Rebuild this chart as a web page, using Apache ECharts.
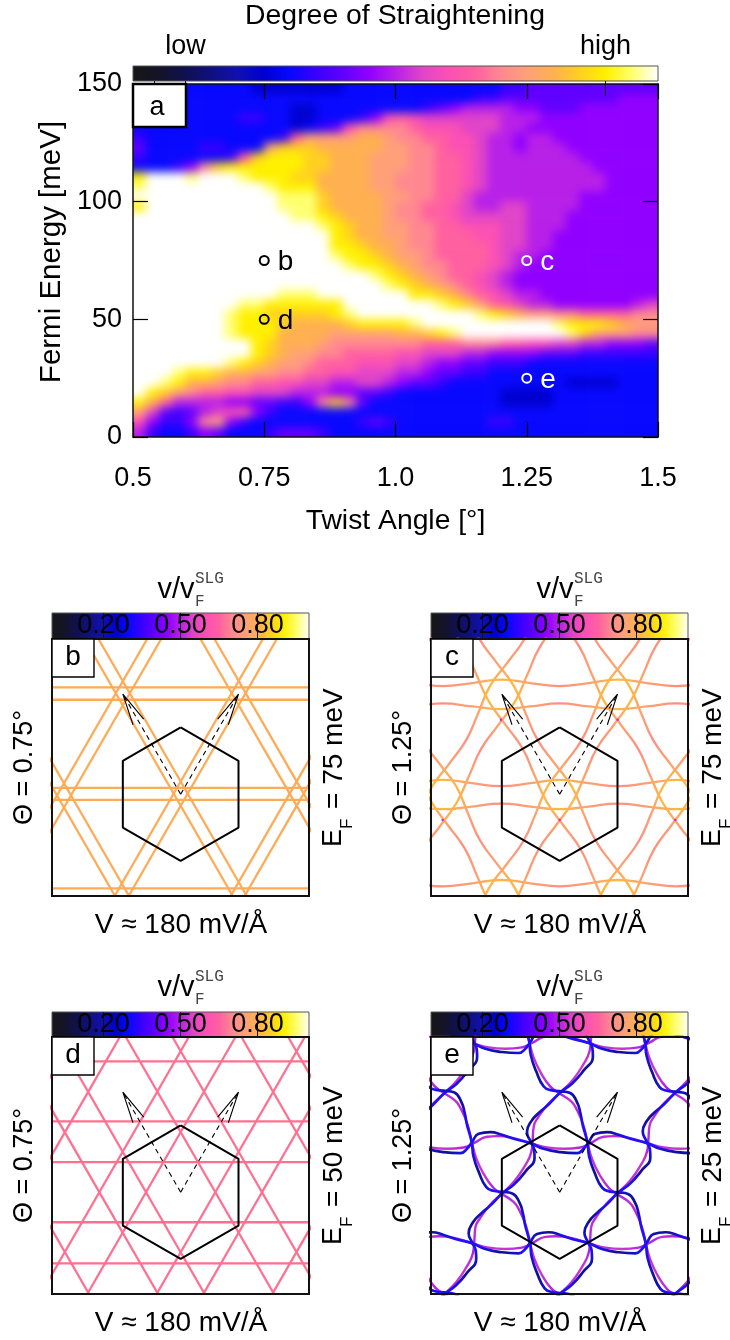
<!DOCTYPE html>
<html><head><meta charset="utf-8">
<style>html,body{margin:0;padding:0;background:#fff}#c{position:relative;isolation:isolate;width:730px;height:1340px;background:#fff}</style>
<script src="https://cdn.jsdelivr.net/npm/echarts@6/dist/echarts.min.js"></script>
</head><body><div id="c"></div><script>
// Colour scale: low → high, evenly spaced
const palette=['#161616','#141428','#101050','#101080','#1010b0','#0000d0','#0808ff','#3a00ff','#6000ff','#9000ff','#b820e8','#e044c8','#fb50b4','#ff60a0','#ff8890','#ffa078','#ffb050','#ffd020','#fff000','#ffff70','#ffffff'];
// Degree of straightening (0-20 levels); rows top (150 meV) to bottom (0 meV), columns 0.5° to 1.5°
const levelRows=[
[6,6,6,6,6,6,6,6,6,5,5,5,5,5,5,5,6,6,6,6,6,6,6,6,6,6,6,6,7,7,8,8,8,8,8,8,8,8,8,8],
[6,6,6,6,6,6,6,6,6,6,6,6,6,6,6,6,6,6,6,6,6,6,6,6,6,6,7,7,8,8,8,8,8,8,8,8,8,9,9,9],
[6,6,6,6,6,6,6,6,6,6,6,6,5,5,6,6,6,6,6,6,6,6,7,8,9,10,10,10,10,9,9,8,8,8,9,9,9,9,9,9],
[6,6,6,6,6,6,6,6,7,7,6,6,5,5,6,6,6,7,9,12,13,12,11,11,11,11,11,11,10,10,10,9,9,9,9,9,9,9,9,9],
[6,6,6,6,6,6,6,6,6,6,6,6,5,6,7,8,12,14,14,14,14,13,12,12,12,11,11,11,10,10,9,9,9,9,9,9,9,9,9,9],
[7,6,6,6,6,6,6,6,6,6,6,7,13,15,15,15,15,16,16,15,14,14,13,13,12,12,11,10,10,9,10,10,9,9,9,9,9,9,9,9],
[8,6,6,6,6,7,7,6,6,6,15,17,17,17,16,16,16,16,16,15,15,14,14,13,12,12,11,10,10,9,10,10,10,9,9,9,9,9,9,9],
[7,6,6,6,6,6,6,7,12,17,18,18,18,17,17,16,16,16,15,15,15,14,14,13,13,12,11,10,10,10,10,10,10,10,9,9,9,9,9,9],
[6,6,6,7,9,14,17,18,18,18,18,18,18,17,17,16,16,16,15,15,15,14,14,13,13,12,11,10,10,10,10,10,10,10,10,9,9,9,9,9],
[18,20,20,20,19,20,20,20,19,18,18,18,17,17,16,16,16,16,15,15,14,14,14,13,13,12,11,10,10,10,10,10,10,10,10,10,9,9,9,9],
[19,20,20,20,20,20,20,20,20,20,19,18,18,18,16,16,16,16,15,15,14,14,14,13,13,12,11,10,10,10,10,10,10,10,10,10,9,9,9,9],
[20,20,20,20,20,20,20,20,20,20,20,19,19,19,17,16,16,16,16,15,15,14,14,13,13,11,10,10,10,10,10,10,10,10,9,9,9,9,9,9],
[18,20,20,20,20,20,20,20,20,20,20,19,19,19,17,16,16,16,16,15,14,14,13,13,12,11,10,10,11,11,10,10,10,10,9,9,9,9,9,9],
[20,20,20,20,20,20,20,20,20,20,20,20,19,19,18,17,16,16,16,15,14,14,13,13,12,11,11,11,11,11,10,10,10,9,9,9,9,9,9,9],
[20,20,20,20,20,20,20,20,20,20,20,20,20,20,19,18,17,16,16,15,15,14,14,13,13,12,12,12,11,11,10,10,10,9,9,9,9,9,9,9],
[20,20,20,20,20,20,20,20,20,20,20,20,20,20,20,18,17,16,16,15,15,14,14,13,13,13,12,12,11,11,10,10,9,9,9,9,9,9,9,9],
[20,20,20,20,20,20,20,20,20,20,20,20,20,20,20,18,18,17,16,16,15,14,14,13,13,13,13,12,11,11,10,10,9,9,9,9,9,9,9,9],
[20,20,20,20,20,20,20,20,20,20,20,20,20,20,20,19,18,18,17,16,15,15,14,13,13,13,13,12,11,10,10,9,9,9,9,9,9,9,9,9],
[20,20,20,20,20,20,20,20,20,20,20,20,20,20,20,20,19,18,18,17,16,15,14,14,13,13,13,12,11,10,9,9,9,9,9,9,9,9,9,9],
[20,20,20,20,20,20,20,20,20,20,20,20,20,20,20,20,20,20,19,18,17,16,15,14,13,13,12,11,10,9,9,9,9,9,9,9,9,9,9,9],
[20,20,20,20,20,20,20,20,20,20,20,20,20,20,20,20,20,20,20,19,18,17,16,15,14,13,12,11,10,9,9,9,9,9,9,9,9,9,9,9],
[20,20,20,20,20,20,20,20,20,20,20,19,19,19,20,20,20,20,20,20,20,18,18,17,16,14,13,12,11,10,10,9,9,9,9,9,9,9,9,9],
[20,20,20,20,20,20,20,20,19,19,18,18,18,18,18,18,20,20,20,20,20,20,20,19,18,17,15,13,12,11,10,10,9,9,9,9,9,9,10,11],
[20,20,20,20,20,20,20,19,18,18,17,17,17,17,17,18,19,20,20,20,20,20,20,20,20,20,19,18,17,16,15,15,14,14,13,13,13,13,14,14],
[20,20,20,20,20,20,20,19,18,18,18,17,16,16,16,16,17,18,18,18,18,19,20,20,20,20,20,20,20,20,20,20,19,18,18,18,17,16,15,15],
[20,20,20,20,20,20,20,19,18,18,18,16,16,16,16,15,15,15,15,15,16,16,17,18,19,20,20,20,20,20,20,20,20,19,17,15,15,15,14,14],
[20,20,20,20,20,20,20,20,20,18,17,16,16,16,15,14,14,14,14,14,14,14,13,13,13,14,14,14,13,13,12,12,11,11,10,10,9,9,9,8],
[20,20,20,20,20,20,20,20,20,18,17,16,15,15,14,14,13,13,13,13,12,12,11,11,11,10,10,9,9,9,9,8,8,8,7,7,7,7,7,7],
[20,20,20,20,20,20,20,19,18,17,16,15,15,14,13,13,13,12,12,12,11,11,10,9,9,8,8,7,7,7,6,6,6,6,6,6,6,6,6,6],
[20,20,20,19,18,18,17,16,16,15,15,14,14,13,13,12,12,11,11,11,10,10,9,8,8,7,7,6,6,6,6,6,6,6,6,6,6,6,6,6],
[20,20,19,18,16,16,15,14,14,13,13,12,12,11,11,10,10,11,11,10,9,8,8,7,6,6,6,6,6,6,6,6,6,5,5,5,5,6,6,6],
[20,18,17,15,14,13,13,12,12,11,11,11,10,10,10,9,9,8,8,7,6,6,6,6,6,6,6,6,5,5,5,5,6,6,6,6,6,6,6,6],
[18,16,13,10,10,10,10,9,9,8,8,7,7,9,14,17,14,8,6,6,6,6,6,6,6,6,6,6,5,5,5,5,6,6,6,6,6,6,6,6],
[15,11,8,7,8,10,11,12,13,9,7,6,6,6,6,6,6,6,6,6,6,6,6,6,6,6,6,6,6,6,6,6,6,6,6,6,6,6,6,6],
[12,9,7,7,9,14,15,9,7,6,6,6,6,6,6,6,6,7,8,7,6,6,6,6,6,6,6,7,7,6,6,6,6,6,6,6,6,6,6,6],
[10,7,6,6,7,9,8,6,6,6,7,8,8,8,7,6,6,6,6,6,6,6,6,6,6,6,6,6,6,6,6,6,6,6,6,6,6,6,6,6]];
// Marked points on the main map
const markerAngles=[0.75,0.75,1.25,1.25];
const markerEnergies=[75,50,75,25];
const markerNames=['b','d','c','e'];
const angleLabels={0.5:'0.5',0.75:'0.75',1:'1.0',1.25:'1.25',1.5:'1.5'};
// Moiré Brillouin zone and reciprocal vectors (hexagon-centred picture units)
const hexU=[0,173.5,173.5,0,-173.5,-173.5,0];
const hexW=[200,100,-100,-200,-100,100,200];
const arrowTipU=[-173.5,173.5];
const arrowTipW=[300,300];
const barbU=[[-111,-143],[111,143]];
const barbW=[[225,208],[225,208]];
// Panel b: straight contour lines
const bRows=[320,283,19,-17,-282];
const bRising=[-369,-327,-22,20,326,368];
const bFalling=[-373,-331,-20,22,328,370];
// Panel d: straight contour lines
const dRows=[392,212,90,-90,-213];
const dRising=[-591,-451,-244,-104,104,244,451,591];
const dFalling=[-591,-451,-244,-104,104,244,451,591];
// Panel c: one read period of the wavy contour pair
const cUpperU=[-175,-87,0,87];const cUpperW=[24,33,43,33];
const cLowerU=[-175,-87,0,87];const cLowerW=[-28,-37,-45,-37];
const cColors=['#ff9080','#ffa070','#ffb840','#ffa070'];
const cDotU=[-176,174,-351,0,347];const cDotW=[223,223,-77,-77,-77];
// Panel e: one read period of the blue and magenta contours
const eBlueU=[-208,-173,-138,-88,-48,2,52,72,87,107];
const eBlueW=[180,172,160,147,130,120,117,130,150,175];
const eBlueColors=['#101090','#1810d8','#2010ff','#2010ff','#2010f0','#1810d0','#101090','#1010c0','#2010ff','#1010b0'];
const eMagU=[-188,-138,-88,-38,12,62,92,132];
const eMagW=[168,162,147,134,130,134,147,166];
const eMagColors=['#b828e0','#c030d8','#a020f0','#c030d8','#c838d0','#c030d8','#a020f0','#c030d8'];

const FONT='"Liberation Sans",Arial,sans-serif';
const grids=[],xAxes=[],yAxes=[],series=[],els=[];
const txt=(x,y,text,size,o)=>Object.assign({type:'text',x,y,z:100,style:{text,fontSize:size,fontFamily:FONT,fill:'#000',align:'center',verticalAlign:'middle'}},o||{});
const stops=palette.map((c,i)=>({offset:i/(palette.length-1),color:c}));

// ---- main map: heatmap cells on a canvas layer of their own ----
const nx=levelRows[0].length,ny=levelRows.length,pad=2;
const P={left:133,top:84,w:525,h:353};
const bw=P.w/nx,bh=P.h/ny;
grids.push({left:P.left-pad*bw,top:P.top-pad*bh,width:P.w+2*pad*bw,height:P.h+2*pad*bh,show:false});
const idx=n=>Array.from({length:n},(_,i)=>i);
xAxes.push({type:'category',gridIndex:0,data:idx(nx+2*pad),show:false});
yAxes.push({type:'category',gridIndex:0,data:idx(ny+2*pad),show:false});
const cells=[];
for(let i=-pad;i<nx+pad;i++)for(let j=-pad;j<ny+pad;j++){
  const ci=Math.min(nx-1,Math.max(0,i)),cj=Math.min(ny-1,Math.max(0,j));
  cells.push([i+pad,ny-1-j+pad,levelRows[cj][ci]]);
}
series.push({type:'heatmap',xAxisIndex:0,yAxisIndex:0,data:cells,zlevel:-1,progressive:0,silent:true,itemStyle:{borderWidth:0}});

// main frame axes
const tickBase={show:true,inside:true,length:15,lineStyle:{color:'#000',width:1.2}};
grids.push({left:P.left,top:P.top,width:P.w,height:P.h,show:false});
const lineBlack={show:true,onZero:false,lineStyle:{color:'#111',width:1.5}};
xAxes.push({type:'value',gridIndex:1,min:0.5,max:1.5,interval:0.25,position:'bottom',splitLine:{show:false},axisLine:lineBlack,axisTick:tickBase,z:5,
  axisLabel:{margin:28,fontSize:27,fontFamily:FONT,color:'#000',formatter:v=>angleLabels[v]},
  name:'Twist Angle [°]',nameLocation:'middle',nameGap:70,nameTextStyle:{fontSize:28.3,fontFamily:FONT,color:'#000'}});
xAxes.push({type:'value',gridIndex:1,min:0.5,max:1.5,interval:0.25,position:'top',splitLine:{show:false},axisLine:lineBlack,axisTick:tickBase,axisLabel:{show:false},z:5});
yAxes.push({type:'value',gridIndex:1,min:0,max:150,interval:50,position:'left',splitLine:{show:false},axisLine:lineBlack,axisTick:tickBase,z:5,
  axisLabel:{margin:11,fontSize:27,fontFamily:FONT,color:'#000',verticalAlignMinLabel:'middle',verticalAlignMaxLabel:'middle'}});
yAxes.push({type:'value',gridIndex:1,min:0,max:150,interval:50,position:'right',splitLine:{show:false},axisLine:lineBlack,axisTick:tickBase,axisLabel:{show:false},z:5});
const markerColors={b:'#000',d:'#000',c:'#fff',e:'#fff'};
series.push({type:'scatter',xAxisIndex:1,yAxisIndex:1,z:6,silent:true,symbol:'circle',symbolSize:9,
  data:markerNames.map((n,i)=>({name:n,value:[markerAngles[i],markerEnergies[i]],
    itemStyle:{color:'rgba(0,0,0,0)',borderColor:markerColors[n],borderWidth:2,opacity:1},
    label:{show:true,position:'right',distance:8,offset:[0,2],formatter:n,fontSize:28,fontFamily:FONT,color:markerColors[n]}}))});
els.push({type:'rect',z:90,shape:{x:P.left,y:P.top,width:53,height:43},style:{fill:'#fff',stroke:'#000',lineWidth:2.5}});
els.push(txt(157,108,'a',27));
els.push(txt(395,16,'Degree of Straightening',28.4));
els.push(txt(52,252,'Fermi Energy [meV]',29.5,{rotation:Math.PI/2}));

// colour bars
function colorbar(left,top,w,h,tickVals,labelVals,fmt,aboveLabels){
  const g=grids.length;
  grids.push({left,top,width:w,height:h,show:false});
  xAxes.push({type:'value',gridIndex:g,min:0,max:1,position:aboveLabels?'top':'bottom',z:5,splitLine:{show:false},axisLine:{show:false},
    axisTick:{show:true,inside:true,length:h,customValues:tickVals,lineStyle:{color:'#111',width:1}},
    axisLabel:{show:true,customValues:labelVals,formatter:fmt,fontSize:27,fontFamily:FONT,color:'#000',inside:!aboveLabels,margin:aboveLabels?6:h/2,verticalAlign:aboveLabels?undefined:'middle',showMinLabel:true,showMaxLabel:true}});
  yAxes.push({type:'value',gridIndex:g,min:0,max:1,show:false});
  const grad=new echarts.graphic.LinearGradient(0,0,1,0,stops);
  series.push({type:'custom',xAxisIndex:xAxes.length-1,yAxisIndex:yAxes.length-1,silent:true,z:1,clip:false,data:[[0,0]],
    renderItem:(p,api)=>{const a=api.coord([0,0]),b=api.coord([1,1]);
      return {type:'rect',shape:{x:a[0],y:b[1],width:b[0]-a[0],height:a[1]-b[1]},style:{fill:grad,stroke:'#555',lineWidth:1}};}});
}
colorbar(P.left,66,P.w,15,[0.04,0.1,0.9],[0.1,0.9],v=>v<0.5?'low':'high',true);

// helpers for the small panels
const U0=-386,U1=385,W0=-305,W1=465,S3=Math.sqrt(3);
function addLine(ix,us,ws,color,width,extra){
  series.push(Object.assign({type:'line',xAxisIndex:ix,yAxisIndex:ix,showSymbol:false,silent:true,clip:true,animation:false,
    data:us.map((u,i)=>[u,ws[i]]),lineStyle:{color,width}},extra||{}));
}
function straightLines(ix,rows,rising,falling,color,w){
  rows.forEach(r=>addLine(ix,[U0,U1],[r,r],color,w));
  rising.forEach(c=>addLine(ix,[c+W0/S3,c+W1/S3],[W0,W1],color,w));
  falling.forEach(c=>addLine(ix,[c-W0/S3,c-W1/S3],[W0,W1],color,w));
}
// repeat a read period across the moiré lattice, in the three lattice directions
function latticeCurves(ix,bu,bw2,cols,kMin,kMax,width){
  [0,60,-60].forEach(deg=>{
    const a=deg*Math.PI/180,ca=Math.cos(a),sa=Math.sin(a);
    const gdir=deg===0?{x:0,y:0,x2:1,y2:0}:deg===60?{x:0,y:1,x2:1,y2:0}:{x:0,y:0,x2:1,y2:1};
    for(let k=kMin;k<=kMax;k++){
      const us=[],ws=[],cs=[];
      for(let m=-3;m<=3;m++)bu.forEach((u,i)=>{
        const x=u+350*m+175*k,y=bw2[i]+300*k;
        us.push(x*ca-y*sa);ws.push(x*sa+y*ca);cs.push(cols[i]);
      });
      const cstops=cs.map((c,i)=>({offset:i/(cs.length-1),color:c}));
      addLine(ix,us,ws,Object.assign({type:'linear',colorStops:cstops},gdir),width,{smooth:0.5});
    }
  });
}
function overlayBZ(ix){
  addLine(ix,hexU,hexW,'#000',2,{z:4});
  arrowTipU.forEach((tu,i)=>{
    addLine(ix,[0,tu],[0,arrowTipW[i]],'#000',1,{z:4,lineStyle:{color:'#000',width:1.1,type:[5,4]}});
    addLine(ix,[barbU[i][0],tu,barbU[i][1]],[barbW[i][0],arrowTipW[i],barbW[i][1]],'#000',1.1,{z:4});
  });
}
function panel(name,left,top,barH,theta,ef,draw){
  colorbar(left,top-barH,257,barH,[0.2,0.5,0.8],[0.2,0.5,0.8],v=>v.toFixed(2),false);
  const gi=grids.length;
  grids.push({left,top,width:257,height:257,show:true,borderColor:'#111',borderWidth:2,backgroundColor:'transparent',z:5});
  xAxes.push({type:'value',gridIndex:gi,min:U0,max:U1,show:false});
  yAxes.push({type:'value',gridIndex:gi,min:W0,max:W1,show:false});
  const ix=xAxes.length-1;
  draw(ix);
  overlayBZ(ix);
  els.push({type:'rect',z:90,shape:{x:left,y:top,width:42,height:38},style:{fill:'#fff',stroke:'#000',lineWidth:1.4}});
  els.push(txt(left+21,top+18,name,28));
  const cx=left+129,cy=top+128.5;
  els.push(txt(cx,top+286,'V ≈ 180 mV/Å',28));
  els.push(txt(left-27,cy,'Θ = '+theta+'°',27,{rotation:Math.PI/2}));
  // colour bar heading  v/v_F^SLG
  els.push(txt(cx-5,top-49,'v/v',29));
  const mono=(x,y,t)=>({type:'text',x,y,z:100,style:{text:t,fontSize:16,fontFamily:'"Liberation Mono",monospace',fill:'#444',align:'left',verticalAlign:'middle'}});
  els.push(mono(cx+14,top-60,'SLG'));
  els.push(mono(cx+14,top-37,'F'));
  // right label  E_F = .. meV
  const rx=left+282,by=top+208;
  els.push({type:'group',x:rx,y:by,rotation:Math.PI/2,children:[
    {type:'text',x:0,y:0,z:100,style:{text:'E',fontSize:27,fontFamily:FONT,fill:'#000',align:'left',verticalAlign:'middle'}},
    {type:'text',x:18,y:13,z:100,style:{text:'F',fontSize:17,fontFamily:FONT,fill:'#000',align:'left',verticalAlign:'middle'}},
    {type:'text',x:38,y:0,z:100,style:{text:'= '+ef+' meV',fontSize:28,fontFamily:FONT,fill:'#000',align:'left',verticalAlign:'middle'}}
  ]});
}
panel('b',52,639,26,'0.75','75',ix=>straightLines(ix,bRows,bRising,bFalling,'#ffaa55',2.3));
panel('c',431,639,26,'1.25','75',ix=>{
  latticeCurves(ix,cUpperU,cUpperW,cColors,-2,2,2.3);
  latticeCurves(ix,cLowerU,cLowerW,cColors,-2,2,2.3);
  series.push({type:'scatter',xAxisIndex:ix,yAxisIndex:ix,silent:true,symbolSize:2.5,z:3,itemStyle:{color:'#e020e0',opacity:1},data:cDotU.map((u,i)=>[u,cDotW[i]])});
});
panel('d',52,1037,25,'0.75','50',ix=>straightLines(ix,dRows,dRising,dFalling,'#ff7090',2.3));
panel('e',431,1037,25,'1.25','25',ix=>{
  latticeCurves(ix,eMagU,eMagW,eMagColors,-2,1,2.4);
  latticeCurves(ix,eBlueU,eBlueW,eBlueColors,-2,1,2.7);
});

const chart=echarts.init(document.getElementById('c'),null,{renderer:'canvas',width:730,height:1340});
chart.setOption({animation:false,backgroundColor:'transparent',
  visualMap:{type:'continuous',show:false,min:0,max:20,seriesIndex:0,inRange:{color:palette}},
  grid:grids,xAxis:xAxes,yAxis:yAxes,series,graphic:{elements:els}});
// soften the heatmap layer so the cells read as the continuous map of the reference
const zr=chart.getZr();
zr.flush();
const layer=zr.painter.getLayer(-1);
if(layer&&layer.dom){
  layer.dom.style.filter='blur(5px)';
  layer.dom.style.clipPath=`inset(${P.top}px ${730-P.left-P.w}px ${1340-P.top-P.h}px ${P.left}px)`;
}
</script></body></html>
